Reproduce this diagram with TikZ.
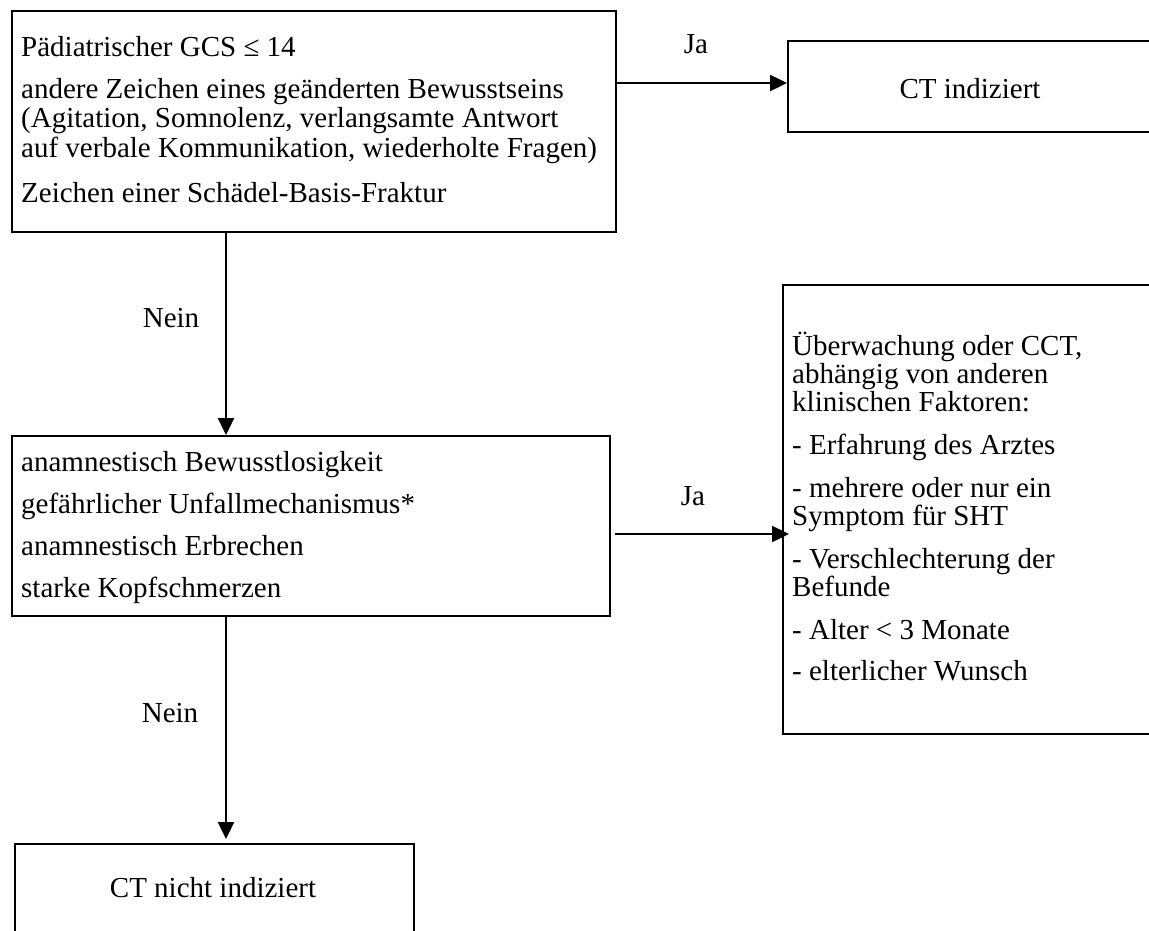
\documentclass[tikz,border=0pt]{standalone}
\usepackage{fontspec}
\setmainfont{Liberation Serif}
\usetikzlibrary{arrows.meta}
\begin{document}
\begin{tikzpicture}[x=1pt,y=-1pt,
  box/.style={draw, line width=2.2pt, rectangle, inner sep=0pt, anchor=north west},
  txt/.style={inner sep=0pt, anchor=base west, font=\fontsize{29}{29}\selectfont},
  lbl/.style={inner sep=0pt, anchor=base, font=\fontsize{29}{29}\selectfont},
  conn/.style={line width=2.4pt, -{Triangle[length=17pt,width=16pt]}}]
\useasboundingbox (0,0) rectangle (1149,931);
\clip (0,0) rectangle (1149,931);

% decision and result boxes
\node[box, minimum width=604pt, minimum height=221pt] (q1) at (11,10) {};
\node[box, minimum width=380pt, minimum height=91pt] (yes1) at (787,40) {};
\node[box, minimum width=598pt, minimum height=180pt] (q2) at (11,435) {};
\node[box, minimum width=380pt, minimum height=449pt] (obs) at (782,284) {};
\node[box, minimum width=399pt, minimum height=100pt] (no2) at (14,843) {};

% box contents
\node[txt] (q1t) at (21,57) {\begin{tabular}[t]{@{}l@{}}
Pädiatrischer GCS ≤ 14\\[13pt]
andere Zeichen eines geänderten Bewusstseins\\
(Agitation, Somnolenz, verlangsamte Antwort\\
auf verbale Kommunikation, wiederholte Fragen)\\[16pt]
Zeichen einer Schädel-Basis-Fraktur
\end{tabular}};
\node[lbl] (yes1t) at (970,99) {CT indiziert};
\node[txt] (q2t) at (21,471) {\begin{tabular}[t]{@{}l@{}}
anamnestisch Bewusstlosigkeit\\[13pt]
gefährlicher Unfallmechanismus*\\[13pt]
anamnestisch Erbrechen\\[13pt]
starke Kopfschmerzen
\end{tabular}};
\node[txt] (obst) at (792,355) {\begin{tabular}[t]{@{}l@{}}
Überwachung oder CCT,\\[-1pt]
abhängig von anderen\\[-1pt]
klinischen Faktoren:\\[14pt]
- Erfahrung des Arztes\\[14pt]
- mehrere oder nur ein\\[-1pt]
Symptom für SHT\\[14pt]
- Verschlechterung der\\[-1pt]
Befunde\\[14pt]
- Alter < 3 Monate\\[12pt]
- elterlicher Wunsch
\end{tabular}};
\node[lbl] (no2t) at (213,897) {CT nicht indiziert};

% connector start points
\coordinate (s1) at (615,83);
\coordinate (s2) at (226,231);
\coordinate (s3) at (615,534);
\coordinate (s4) at (226,615);

% connectors
\draw[conn] (s1) -- (s1 -| yes1.west);
\draw[conn] (s2) -- (s2 |- q2.north);
\draw[conn, shorten >=-7pt] (s3) -- (s3 -| obs.west);
\draw[conn, shorten >=4pt] (s4) -- (s4 |- no2.north);

% branch labels
\node[lbl] (ja1) at (696,54) {Ja};
\node[lbl] (nein1) at (171,327) {Nein};
\node[lbl] (ja2) at (693,505) {Ja};
\node[lbl] (nein2) at (170,722) {Nein};
\end{tikzpicture}
\end{document}
